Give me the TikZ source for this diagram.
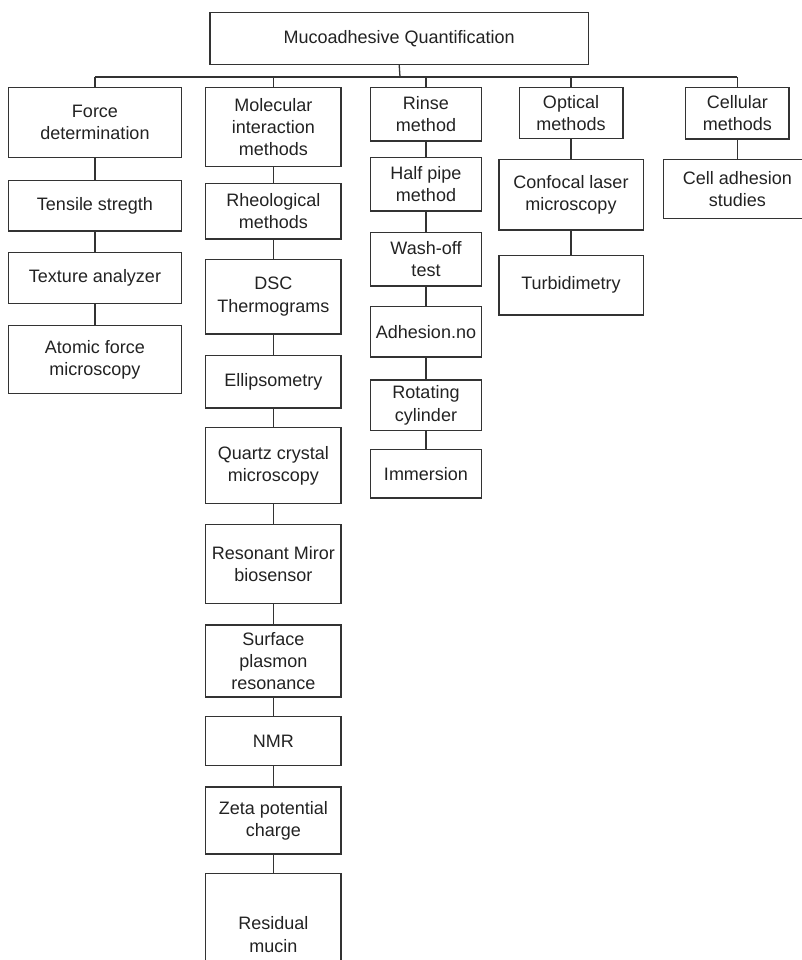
\documentclass[tikz,border=0pt]{standalone}
\usepackage{fontspec}
\setmainfont{Liberation Sans}
\definecolor{ink}{HTML}{333333}
\definecolor{txt}{HTML}{222222}
\begin{document}
\begin{tikzpicture}[x=1pt,y=-1pt,
  bx/.style={draw=ink, line width=1.3pt, rectangle, inner sep=0pt, align=center,
    text=txt, font=\fontsize{18pt}{22.3pt}\selectfont},
  ln/.style={draw=ink, line width=1.3pt}]
\useasboundingbox (0,0) rectangle (802,960);
\clip (0,0) rectangle (802,960);
% root
\node[bx, minimum width=378.3pt, minimum height=52pt] (root) at (399.2,38.3) {Mucoadhesive Quantification};
\coordinate (bus) at (400,77);
% column 1
\node[bx, minimum width=172.6pt, minimum height=70pt] (f1) at (95,122.3) {Force\\determination};
\node[bx, minimum width=172.6pt, minimum height=50.7pt] (f2) at (95,205.65) {Tensile stregth};
\node[bx, minimum width=172.6pt, minimum height=51pt] (f3) at (95,277.8) {Texture analyzer};
\node[bx, minimum width=172.6pt, minimum height=67.6pt] (f4) at (95,359.5) {Atomic force\\microscopy};
% column 2
\node[bx, minimum width=135.3pt, minimum height=79.4pt] (m1) at (273.3,127) {Molecular\\interaction\\methods};
\node[bx, minimum width=135.3pt, minimum height=55.7pt] (m2) at (273.3,211.15) {Rheological\\methods};
\node[bx, minimum width=135.3pt, minimum height=74.7pt] (m3) at (273.3,296.65) {DSC\\Thermograms};
\node[bx, minimum width=135.3pt, minimum height=52.3pt] (m4) at (273.3,381.85) {Ellipsometry};
\node[bx, minimum width=135.3pt, minimum height=76pt] (m5) at (273.3,465.7) {Quartz crystal\\microscopy};
\node[bx, minimum width=135.3pt, minimum height=79pt] (m6) at (273.3,563.8) {Resonant Miror\\biosensor};
\node[bx, minimum width=135.3pt, minimum height=72pt] (m7) at (273.3,661) {Surface\\plasmon\\resonance};
\node[bx, minimum width=135.3pt, minimum height=48.6pt] (m8) at (273.3,741) {NMR};
\node[bx, minimum width=135.3pt, minimum height=67pt] (m9) at (273.3,820.5) {Zeta potential\\charge};
\node[bx, minimum width=135.3pt, minimum height=122.7pt] (m10) at (273.3,934.65) {Residual\\mucin};
% column 3
\node[bx, minimum width=111.4pt, minimum height=53.7pt] (r1) at (426,114.15) {Rinse\\method};
\node[bx, minimum width=111.4pt, minimum height=53.7pt] (r2) at (426,184.15) {Half pipe\\method};
\node[bx, minimum width=111.4pt, minimum height=53.7pt] (r3) at (426,259.15) {Wash-off\\test};
\node[bx, minimum width=111.4pt, minimum height=50.3pt] (r4) at (426,331.85) {Adhesion.no};
\node[bx, minimum width=111.4pt, minimum height=50.7pt] (r5) at (426,405.35) {Rotating\\cylinder};
\node[bx, minimum width=111.4pt, minimum height=48.7pt] (r6) at (426,473.65) {Immersion};
% column 4
\node[bx, minimum width=103.7pt, minimum height=51.4pt] (o1) at (571,113) {Optical\\methods};
\node[bx, minimum width=144.3pt, minimum height=70.3pt] (o2) at (571,194.85) {Confocal laser\\microscopy};
\node[bx, minimum width=144.3pt, minimum height=59.7pt] (o3) at (571,285.15) {Turbidimetry};
% column 5
\node[bx, minimum width=103.6pt, minimum height=51.7pt] (c1) at (737.3,113.15) {Cellular\\methods};
\node[bx, minimum width=148pt, minimum height=58.6pt] (c2) at (737.3,189) {Cell adhesion\\studies};
% connectors
\draw[ln] (root.south) -- (bus);
\draw[ln] (f1.north |- bus) -- (c1.north |- bus);
\foreach \n in {f1,m1,r1,o1,c1} {\draw[ln] (\n.north) -- (\n.north |- bus);}
\foreach \a/\b in {f1/f2,f2/f3,f3/f4,m1/m2,m2/m3,m3/m4,m4/m5,m5/m6,m6/m7,m7/m8,m8/m9,m9/m10,r1/r2,r2/r3,r3/r4,r4/r5,r5/r6,o1/o2,o2/o3,c1/c2}
  {\draw[ln] (\a.south) -- (\b.north);}
\end{tikzpicture}
\end{document}
